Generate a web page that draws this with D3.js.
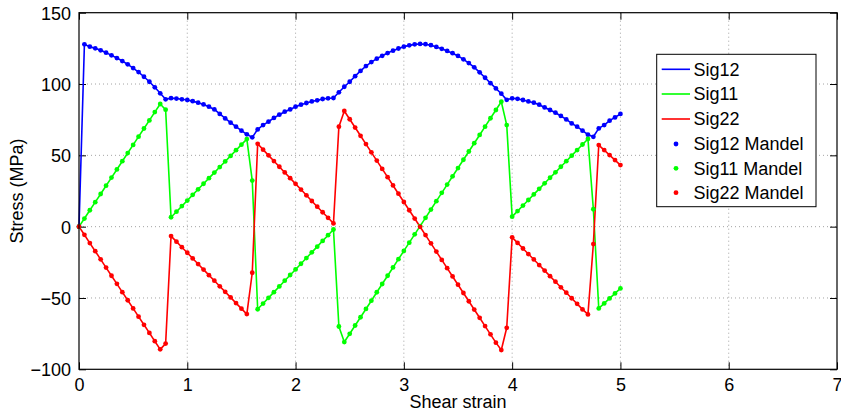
<!DOCTYPE html>
<html><head><meta charset="utf-8">
<script src="https://cdn.jsdelivr.net/npm/d3@7"></script>
<style>
html,body{margin:0;padding:0;background:#fff;}
svg{display:block;font-family:"Liberation Sans",Arial,Helvetica,sans-serif;}
</style></head>
<body>
<svg id="chart" width="841" height="413"></svg>
<script>
const strain = [0.00,0.05,0.10,0.15,0.20,0.25,0.30,0.35,0.40,0.45,0.50,0.55,0.60,0.65,0.70,0.75,0.80,0.85,0.90,0.95,
1.00,1.05,1.10,1.15,1.20,1.25,1.30,1.35,1.40,1.45,1.50,1.55,1.60,1.65,1.70,1.75,1.80,1.85,1.90,1.95,
2.00,2.05,2.10,2.15,2.20,2.25,2.30,2.35,2.40,2.45,2.50,2.55,2.60,2.65,2.70,2.75,2.80,2.85,2.90,2.95,
3.00,3.05,3.10,3.15,3.20,3.25,3.30,3.35,3.40,3.45,3.50,3.55,3.60,3.65,3.70,3.75,3.80,3.85,3.90,3.95,
4.00,4.05,4.10,4.15,4.20,4.25,4.30,4.35,4.40,4.45,4.50,4.55,4.60,4.65,4.70,4.75,4.80,4.85,4.90,4.95,5.00];

const sig12 = [0,127.8,126.2,125.0,123.6,122.0,120.1,118.2,116.1,113.8,111.2,108.4,105.1,101.6,97.7,93.5,89.3,90.1,89.8,89.3,
88.8,88.0,86.9,85.7,84.1,82.2,79.0,75.9,72.9,70.1,67.3,64.7,62.6,68.2,71.2,73.6,76.2,78.5,80.6,82.2,
84.1,85.5,86.7,87.8,88.6,89.5,90.0,90.2,94.2,98.1,101.6,105.5,109.2,112.6,115.4,117.8,119.8,121.7,123.4,124.9,
126.2,127.1,127.8,128.1,127.9,127.2,126.0,124.7,123.2,121.6,119.7,117.3,114.7,111.7,108.2,104.4,100.6,96.9,93.2,88.9,
90.0,89.6,88.8,87.8,86.9,85.5,83.6,81.8,79.9,77.6,75.2,72.4,70.1,67.3,64.5,63.0,68.9,71.2,74.3,76.6,79.0];

const sig11 = [0,5.7,11.5,17.2,22.9,28.7,34.4,40.1,45.9,51.6,57.3,63.1,68.8,74.5,80.3,86.0,82.0,6.6,10.5,14.4,
18.3,22.3,26.2,30.1,34.0,37.9,41.8,45.7,49.6,53.6,57.5,61.4,32.3,-57.9,-53.9,-49.9,-45.9,-41.9,-37.9,-33.9,
-30.0,-26.0,-22.0,-18.0,-14.0,-10.0,-6.0,-2.0,-70.0,-80.9,-75.1,-69.3,-63.5,-57.7,-51.9,-46.0,-40.2,-34.4,-28.6,-22.8,
-17.0,-11.2,-5.4,0.4,6.2,12.0,17.9,23.7,29.5,35.3,41.1,46.9,52.7,58.5,64.3,70.1,76.0,81.8,87.6,71.2,
7.0,10.9,14.8,18.7,22.6,26.5,30.4,34.3,38.1,42.0,45.9,49.8,53.7,57.6,61.5,12.2,-57.3,-53.8,-50.3,-46.8,-43.3];

const sig22 = [0,-5.7,-11.5,-17.2,-22.9,-28.7,-34.4,-40.1,-45.9,-51.6,-57.3,-63.1,-68.8,-74.5,-80.3,-86.0,-82.0,-6.6,-10.5,-14.4,
-18.3,-22.3,-26.2,-30.1,-34.0,-37.9,-41.8,-45.7,-49.6,-53.6,-57.5,-61.3,-32.3,58.1,54.0,50.0,46.0,42.0,38.0,34.0,
30.0,26.0,22.0,18.0,14.0,10.1,6.2,2.3,70.1,81.1,75.3,69.5,63.7,57.9,52.1,46.3,40.5,34.7,28.9,23.1,
17.3,11.5,5.7,-0.1,-5.9,-11.7,-17.5,-23.3,-29.1,-34.9,-40.7,-46.5,-52.3,-58.1,-63.9,-69.7,-75.5,-81.3,-86.5,-70.9,
-7.5,-11.4,-15.3,-19.2,-23.0,-26.9,-30.8,-34.7,-38.6,-42.5,-46.3,-50.2,-54.1,-58.0,-61.5,-12.2,57.2,53.7,50.2,46.7,43.2];

const xTicks = [0,1,2,3,4,5,6,7];
const yTicks = [-100,-50,0,50,100,150];
const seriesNames = ["Sig12","Sig11","Sig22"];
const mandelNames = ["Sig12 Mandel","Sig11 Mandel","Sig22 Mandel"];
const colors = ["#0000ff","#00ff00","#ff0000"];
const xLabel = "Shear strain";
const yLabel = "Stress (MPa)";

const svg = d3.select("#chart");
const L = 79, R = 837, T = 12.7, B = 369.3;
const x = d3.scaleLinear().domain([0,7]).range([L,R]);
const y = d3.scaleLinear().domain([-100,150]).range([B,T]);

// grid
const grid = svg.append("g");
grid.selectAll("line.gx").data(xTicks.slice(1,-1)).join("line")
  .attr("x1",d=>x(d)).attr("x2",d=>x(d)).attr("y1",T).attr("y2",B)
  .attr("stroke","#8c8c8c").attr("stroke-width",0.8).attr("stroke-dasharray","1,3");
grid.selectAll("line.gy").data(yTicks.slice(1,-1)).join("line")
  .attr("y1",d=>y(d)).attr("y2",d=>y(d)).attr("x1",L).attr("x2",R)
  .attr("stroke","#8c8c8c").attr("stroke-width",0.8).attr("stroke-dasharray","1,3");

// axes (ticks inward)
const tickLen = 7;
const fs = "18px";
const ax = svg.append("g").attr("transform",`translate(0,${B})`)
  .call(d3.axisBottom(x).tickValues(xTicks).tickFormat(d3.format("d")).tickSizeInner(-tickLen).tickSizeOuter(0).tickPadding(9));
const axTop = svg.append("g").attr("transform",`translate(0,${T})`)
  .call(d3.axisTop(x).tickValues(xTicks).tickFormat("").tickSizeInner(-tickLen).tickSizeOuter(0));
const ay = svg.append("g").attr("transform",`translate(${L},0)`)
  .call(d3.axisLeft(y).tickValues(yTicks).tickFormat(d=>d<0?"\u2212"+Math.abs(d):d).tickSizeInner(-tickLen).tickSizeOuter(0).tickPadding(8));
const ayR = svg.append("g").attr("transform",`translate(${R},0)`)
  .call(d3.axisRight(y).tickValues(yTicks).tickFormat("").tickSizeInner(-tickLen).tickSizeOuter(0));
[ax,axTop,ay,ayR].forEach(g=>{
  g.select(".domain").remove();
  g.selectAll(".tick line").attr("stroke","#000").attr("stroke-width",1);
  g.selectAll("text").attr("fill","#000").style("font-size",fs).style("font-family","'Liberation Sans',Arial,sans-serif");
});
ax.selectAll("text").attr("dy","0.71em");
ay.selectAll("text").attr("dy","0.36em");

// data
const rows = strain.map((s,i)=>({s, v:[sig12[i],sig11[i],sig22[i]]}));
const plot = svg.append("g");
[0,1,2].forEach(k=>{
  plot.append("path").datum(rows)
    .attr("fill","none").attr("stroke",colors[k]).attr("stroke-width",1.6).attr("stroke-linejoin","round")
    .attr("d",d3.line().x(d=>x(d.s)).y(d=>y(d.v[k])));
});
[0,1,2].forEach(k=>{
  plot.append("g").selectAll("circle").data(rows).join("circle")
    .attr("cx",d=>x(d.s)).attr("cy",d=>y(d.v[k])).attr("r",2.4).attr("fill",colors[k]);
});

// frame
svg.append("rect").attr("x",L).attr("y",T).attr("width",R-L).attr("height",B-T)
  .attr("fill","none").attr("stroke","#000").attr("stroke-width",1.2);

// axis labels
svg.append("text").attr("x",(L+R)/2).attr("y",408).attr("text-anchor","middle")
  .style("font-size",fs).text(xLabel);
svg.append("text").attr("transform",`translate(23,${(T+B)/2}) rotate(-90)`).attr("text-anchor","middle")
  .style("font-size",fs).text(yLabel);

// legend
const lg = svg.append("g");
lg.append("rect").attr("x",656.7).attr("y",54.3).attr("width",159.3).attr("height",152.4)
  .attr("fill","#fff").attr("stroke","#000").attr("stroke-width",1);
const rowY = [69.3,94,119,144,168.3,192.7];
seriesNames.forEach((n,k)=>{
  lg.append("line").attr("x1",661.7).attr("x2",690).attr("y1",rowY[k]).attr("y2",rowY[k])
    .attr("stroke",colors[k]).attr("stroke-width",1.6);
  lg.append("text").attr("x",693.5).attr("y",rowY[k]).attr("dy","0.36em").style("font-size",fs).text(n);
});
mandelNames.forEach((n,k)=>{
  lg.append("circle").attr("cx",676).attr("cy",rowY[k+3]).attr("r",2.4).attr("fill",colors[k]);
  lg.append("text").attr("x",693.5).attr("y",rowY[k+3]).attr("dy","0.36em").style("font-size",fs).text(n);
});
</script>
</body></html>
